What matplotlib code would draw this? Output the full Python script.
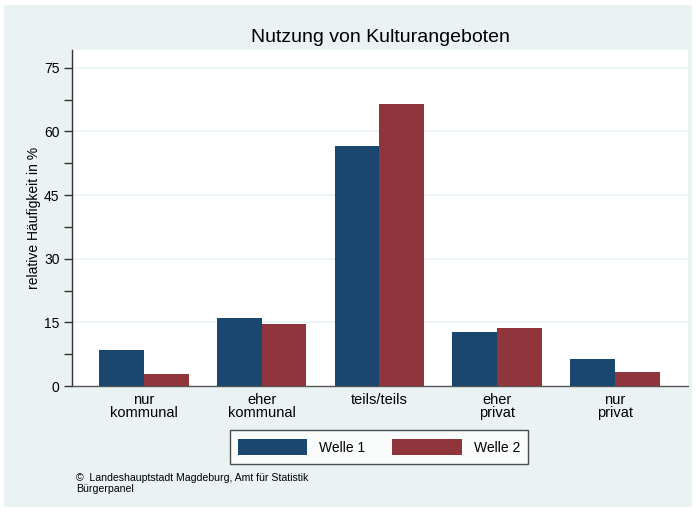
import matplotlib
matplotlib.use("Agg")
import matplotlib.pyplot as plt
import numpy as np
from matplotlib.patches import Rectangle

plt.rcParams['font.family'] = ['Liberation Sans', 'DejaVu Sans']

categories = ["nur\nkommunal", "eher\nkommunal", "teils/teils", "eher\nprivat", "nur\nprivat"]
welle1 = [8.5, 16.0, 56.6, 12.7, 6.4]
welle2 = [2.8, 14.6, 66.5, 13.7, 3.3]
series_names = ["Welle 1", "Welle 2"]
yticks_major = [0, 15, 30, 45, 60, 75]
yticks_minor = [7.5, 22.5, 37.5, 52.5, 67.5]

BG = "#EAF2F3"
BLUE = "#1A476F"
RED = "#90353B"

W, H = 696, 511
fig = plt.figure(figsize=(W / 100, H / 100), dpi=100, facecolor="white")
fig.patches.append(Rectangle((4 / W, 4 / H), 688 / W, 502 / H, transform=fig.transFigure,
                             facecolor=BG, edgecolor="none", zorder=-10))

ax = fig.add_axes([72 / W, (H - 386) / H, 616 / W, 336 / H])
ax.set_facecolor("white")

x = np.arange(len(categories))
bw = 0.38
b1 = ax.bar(x - bw / 2, welle1, bw, color=BLUE, label=series_names[0], zorder=3)
b2 = ax.bar(x + bw / 2, welle2, bw, color=RED, label=series_names[1], zorder=3)

ax.set_xlim(-0.61, 4.62)
ax.set_ylim(0, 79.2)
ax.set_yticks(yticks_major)
ax.set_yticks(yticks_minor, minor=True)
ax.set_yticklabels([str(v) for v in yticks_major], fontsize=10)
ax.tick_params(axis='y', which='both', direction='out', length=6, width=1, color="#333333", pad=3)
for yv in yticks_major[1:]:
    ax.axhline(yv, color=BG, linewidth=1.2, zorder=1)

ax.set_xticks(x)
ax.set_xticklabels(categories, fontsize=10.5, linespacing=0.88)
ax.tick_params(axis='x', length=0, pad=5)

for s in ["top", "right"]:
    ax.spines[s].set_visible(False)
ax.spines["left"].set_color("#333333")
ax.spines["bottom"].set_color("#555555")
ax.spines["left"].set_linewidth(1)
ax.spines["bottom"].set_linewidth(1)

ax.set_ylabel("relative Häufigkeit in %", fontsize=10, labelpad=2)

fig.text(380 / W, 1 - 37 / H, "Nutzung von Kulturangeboten", ha="center", va="center", fontsize=14)

leg = fig.legend(handles=[b1, b2], labels=series_names, loc="center",
                 bbox_to_anchor=(379 / W, 1 - 447 / H), ncol=2, fontsize=10,
                 handlelength=5.0, handleheight=1.45, handletextpad=0.85,
                 columnspacing=1.95, borderpad=0.6, fancybox=False, frameon=True)
leg.get_frame().set_edgecolor("#222222")
leg.get_frame().set_linewidth(1)
leg.get_frame().set_facecolor("white")

fig.text(76 / W, 1 - 478 / H, "©  Landeshauptstadt Magdeburg, Amt für Statistik", ha="left", va="center", fontsize=7.6)
fig.text(76 / W, 1 - 489 / H, "Bürgerpanel", ha="left", va="center", fontsize=7.6)

fig.savefig("out.png", dpi=100, facecolor="white")
